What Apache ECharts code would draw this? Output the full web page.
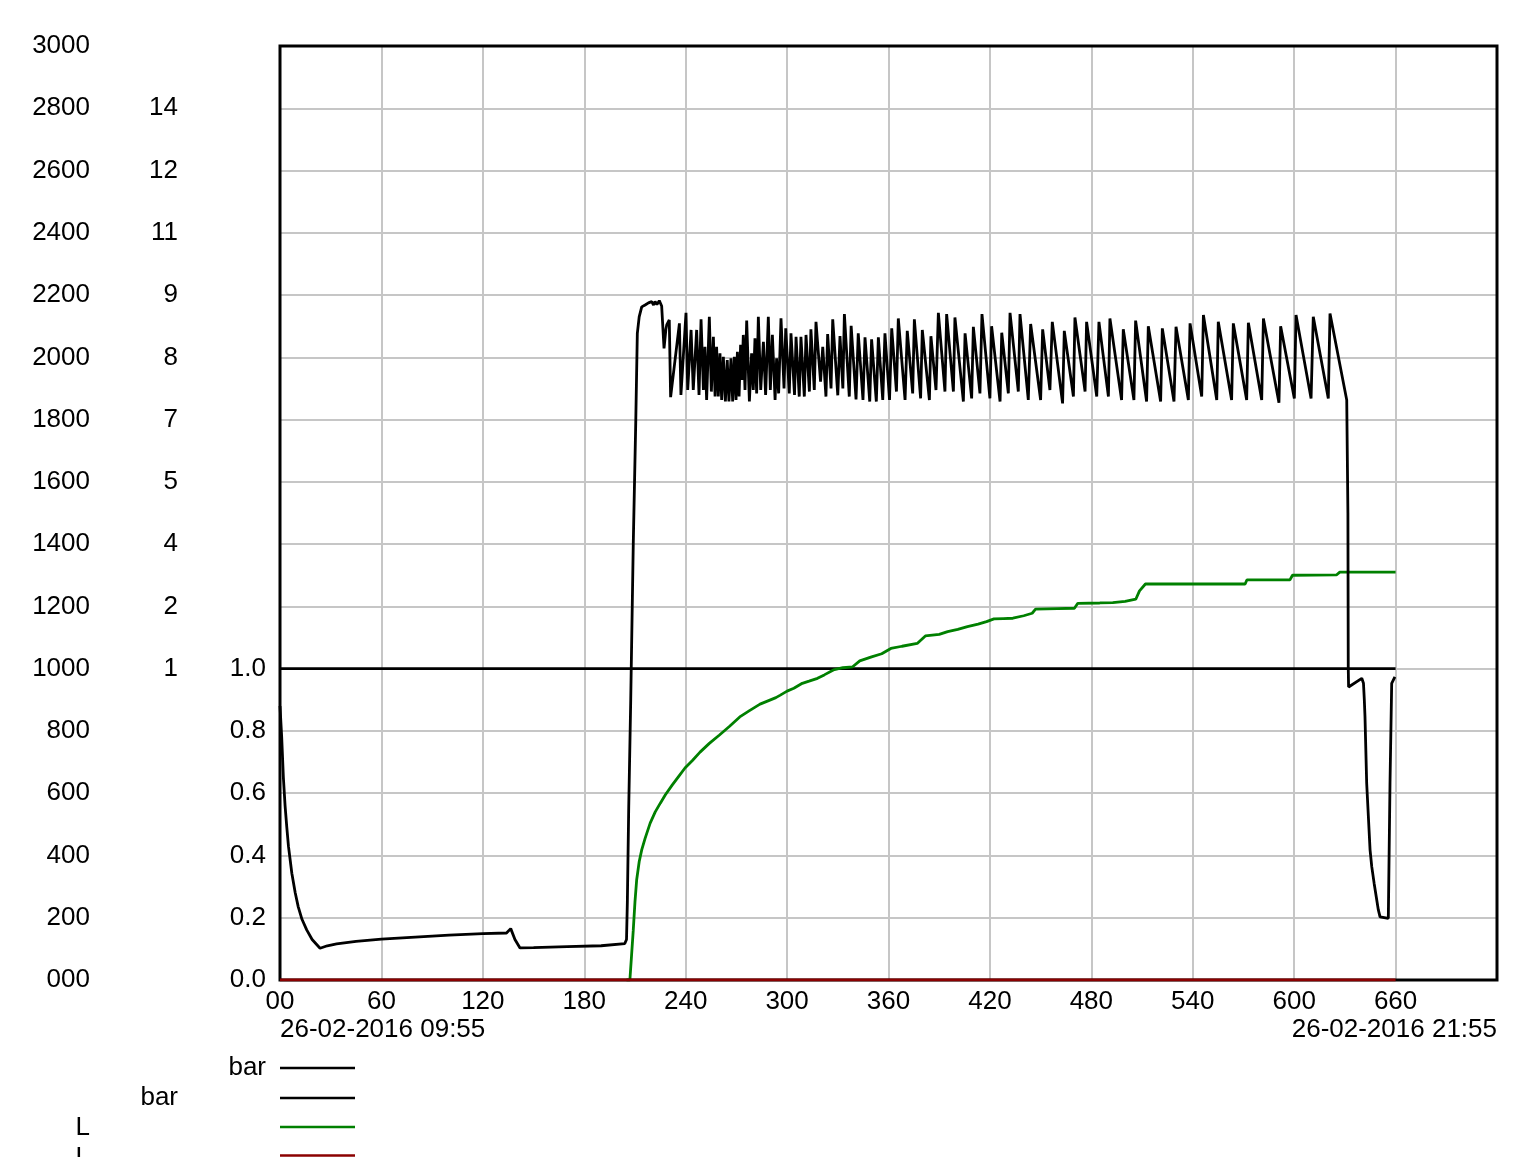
<!DOCTYPE html>
<html>
<head>
<meta charset="utf-8">
<script src="https://cdn.jsdelivr.net/npm/echarts@6/dist/echarts.min.js"></script>
<style>
html,body{margin:0;padding:0;background:#fff;}
#chart{width:1530px;height:1157px;}
</style>
</head>
<body>
<div id="chart"></div>
<script>
// ---- tick labels ----
const xTickLabels = ['00','60','120','180','240','300','360','420','480','540','600','660',''];
const yTicks1 = ['000','200','400','600','800','1000','1200','1400','1600','1800','2000','2200','2400','2600','2800','3000'];
const yTicks2 = ['','','','','','1','2','4','5','7','8','9','11','12','14',''];
const yTicks3 = ['0.0','0.2','0.4','0.6','0.8','1.0','','','','','','','','','',''];
const startLabel = '26-02-2016 09:55';
const endLabel = '26-02-2016 21:55';
const legendNames = ['bar','bar','L','L'];

// ---- series values [minutes, value on 0-3000 scale] ----
const bar1 = [[0,1000],[660,1000]];

const bar2 = [
[0,880],[1,780],[2,650],[3,560],[4,492],[5,430],[7,343],[9,280],[10.8,235],[13,195],[15.8,161],[19,130],[23.7,102],
[28,110],[33.5,116],[45,124],[60,131],[80,138],[100,144],[120,149],[134,151],[136.5,165],[139,130],[142,103],
[150,104],[170,107],[190,110],[204,117],[205,130],[205.5,250],[206.3,550],[207.5,900],[209,1400],[210.5,1800],
[211.4,2077],[212.5,2130],[214,2162],[216,2168],[218,2175],[219.9,2179],[221,2168],[221.9,2179],[223,2170],
[224.4,2182],[225.8,2165],[227.2,2029],[228.3,2090],[228.8,2104],[230.3,2120],[231.1,1872],
[236.3,2109],[237.2,1879],[240.2,2143],[241.2,1895],[243.2,2088],[244.5,1895],[246.5,2088],[247.9,1879],
[249.1,2122],[250.5,1895],[251.4,2034],[252.4,1863],[254.0,2130],[255.2,1890],[256.4,2066],[257.4,1874],
[258.3,2034],[259.3,1874],[260.3,2013],[261.3,1863],[262.3,2002],[263.5,1858],[264.6,1991],[265.6,1858],
[266.8,1997],[267.8,1858],[268.8,2002],[269.8,1863],[270.6,2018],[271.6,1874],[272.5,2040],[273.3,1927],
[274.1,2072],[275.1,1895],[276.1,2118],[277.7,1858],[279.0,2013],[280.0,1895],[281.0,2061],[282.0,1884],
[283.0,2130],[284.4,1895],[286.0,2050],[287.3,1879],[288.9,2130],[290.1,1895],[291.3,2072],[292.9,1863],
[293.8,1997],[295.0,1884],
[296.4,2125],[298.2,1900],[299.2,2093],[301.3,1884],[302.3,2077],[304.4,1879],[305.3,2066],[307.2,1874],
[308.2,2066],[310.2,1874],[311.2,2072],[313.2,1890],[314.1,2090],[316.1,1895],[317.1,2114],[319.8,1922],
[321.1,2034],[323.0,1874],[324.0,2075],[326.0,1900],[327.0,2122],[330.0,1878],[331.3,2068],[333.0,1900],
[333.9,2139],[336.8,1874],[337.9,2101],[340.8,1865],[342.1,2077],[344.9,1863],[346.1,2064],[348.9,1858],
[350.0,2058],[352.8,1858],[354.0,2064],[356.6,1863],[357.9,2077],[360.6,1863],[361.9,2093],[364.7,1890],
[365.8,2125],[369.8,1863],[371.1,2085],
[374.3,1884],[375.3,2122],[379.0,1868],[380.0,2088],[384.2,1863],[385.1,2068],[388.1,1895],[389.5,2143],
[393.4,1890],[394.4,2139],[398.4,1890],[399.3,2128],[404.3,1858],[405.3,2077],[409.2,1868],[410.2,2098],
[414.1,1884],[415.3,2139],[420.0,1868],[421.0,2100],[426.0,1858],[427.0,2079],[430.9,1884],[431.9,2143],
[436.8,1890],[437.8,2139],[442.7,1863],[444.1,2107],[450.0,1863],[451.2,2090],[455.5,1895],[456.9,2114],
[463.0,1852],[464.0,2085],[469.4,1874],[470.3,2128],[476.3,1890],[477.2,2114],[483.2,1874],[484.5,2114],
[490.1,1874],[491.0,2125],[497.9,1863],[498.9,2090],[505.2,1863],[506.2,2118],[512.7,1858],[513.7,2100],
[521.0,1858],[522.0,2093],[528.9,1858],[530.1,2098],[537.4,1863],[538.4,2109],
[545.3,1874],[546.3,2136],[554.2,1863],[555.1,2114],[563.0,1863],[564.0,2109],[571.9,1863],[572.9,2111],
[580.8,1863],[581.8,2125],[591.0,1854],[592.0,2100],[600.1,1868],[601.1,2136],[610.0,1868],[611.3,2130],
[620.2,1868],[621.2,2141],[631.1,1863],
[631.8,1500],[632,1002],[632.2,941],[633,942],[640,969],[641,953],[641.5,900],[641.9,846],[642.9,632],[643.9,525],
[644.9,418],[645.9,364],[647.3,311],[649.8,225],[650.8,203],[655.7,198],[656.7,632],[657.7,953],[659.6,974]
];

const lSeries1 = [
[205,0],[207,0],[208,80],[209,160],[210,250],[211,321],[212.5,380],[214,418],[216,455],[219,504],[222,540],
[225,568],[228,595],[232,626],[236,655],[239.6,681],[244,705],[248.5,732],[254,760],[260,787],[266,815],
[272,845],[278,866],[284,886],[288,895],[293.4,907],[296,915],[300,928],[304,937],[309,953],[313,960],
[318,969],[322,980],[327.4,996],[333,1003],[338.8,1006],[343,1025],[350,1038],[356,1048],[361.4,1065],
[368,1072],[377,1081],[381.8,1105],[390,1110],[395,1119],[401,1126],[406.7,1135],[413,1143],[418,1151],
[422.4,1160],[428,1161],[433.6,1162],[440,1170],[445,1178],[447,1191],[460,1193],[470,1194],[472,1210],
[485,1211],[492.7,1212],[500,1216],[506.3,1223],[508.5,1250],[512,1272],[571,1272],[572,1285],[597.5,1285],
[599,1300],[625,1301],[627,1310],[660,1310]
];

const lSeries2 = [[0,0],[660,0]];

const colors = ['#000000','#000000','#008000','#8b0000'];

// ---- chart ----
const FONT = 'Liberation Sans, Arial, sans-serif';
const chart = echarts.init(document.getElementById('chart'), null, {renderer:'canvas'});
const GL = 280, GR = 1497, GT = 46, GB = 980;

function yAxisDef(labels, offset, showSplit){
  return {
    type:'value', min:0, max:3000, interval:200, position:'left', offset:offset,
    axisLine:{show:false}, axisTick:{show:false},
    splitLine:{show:showSplit, lineStyle:{color:'#c6c6c6', width:2}},
    axisLabel:{show:true, margin:14, color:'#000', fontFamily:FONT, fontSize:26, padding:[4,0,0,0],
      formatter:function(v){ return labels[Math.round(v/200)] || ''; }}
  };
}

const legendGraphics = [];
const legendRowsY = [1068,1098,1128,1158];
const legendLineY = [1068,1098,1127,1155.5];
const legendTextRight = [266,178,90,90];
for (let i=0;i<4;i++){
  legendGraphics.push({type:'text', x:legendTextRight[i], y:legendRowsY[i], style:{text:legendNames[i], align:'right', verticalAlign:'middle', font:'26px '+FONT, fill:'#000'}});
  legendGraphics.push({type:'line', shape:{x1:GL, y1:legendLineY[i], x2:355, y2:legendLineY[i]}, style:{stroke:colors[i], lineWidth:2.5}});
}

chart.setOption({
  animation:false,
  backgroundColor:'#fff',
  grid:{left:GL, right:1530-GR, top:GT, bottom:1157-GB, show:false},
  xAxis:{
    type:'value', min:0, max:720, interval:60,
    axisLine:{show:false}, axisTick:{show:false},
    splitLine:{show:true, lineStyle:{color:'#c6c6c6', width:2}},
    axisLabel:{show:true, margin:9, color:'#000', fontFamily:FONT, fontSize:26, showMaxLabel:true, showMinLabel:true,
      formatter:function(v){ return xTickLabels[Math.round(v/60)] || ''; }}
  },
  yAxis:[ yAxisDef(yTicks3,0,true), yAxisDef(yTicks2,88,false), yAxisDef(yTicks1,176,false) ],
  graphic:[
    {type:'rect', z:100, shape:{x:GL, y:GT, width:GR-GL, height:GB-GT}, style:{fill:null, stroke:'#000', lineWidth:3}},
    {type:'text', x:GL, y:1030, style:{text:startLabel, align:'left', verticalAlign:'middle', font:'26px '+FONT, fill:'#000'}},
    {type:'text', x:GR, y:1030, style:{text:endLabel, align:'right', verticalAlign:'middle', font:'26px '+FONT, fill:'#000'}}
  ].concat(legendGraphics),
  series:[
    {name:'bar', type:'line', data:bar1, showSymbol:false, lineStyle:{color:colors[0], width:2.8}, z:3},
    {name:'bar', type:'line', data:bar2, showSymbol:false, lineStyle:{color:colors[1], width:2.8}, z:4},
    {name:'L', type:'line', data:lSeries1, showSymbol:false, lineStyle:{color:colors[2], width:2.8}, z:3},
    {name:'L', type:'line', data:lSeries2, showSymbol:false, lineStyle:{color:colors[3], width:3}, z:110}
  ]
});
</script>
</body>
</html>
